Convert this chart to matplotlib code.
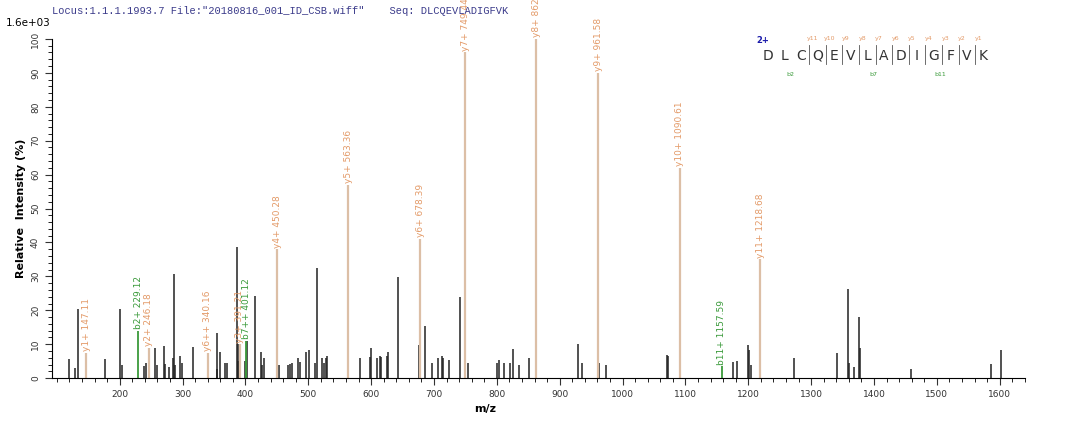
import matplotlib
matplotlib.use("Agg")
import matplotlib.pyplot as plt
from matplotlib.ticker import MultipleLocator

# unassigned peaks (m/z, relative intensity %)
mz_black = [120, 129.4, 133, 177, 200.5, 204, 238.5, 242, 256, 260, 270, 272, 278.6, 284.5,
            286.6, 288, 296, 298.6, 316, 354.5, 355.5, 359, 368, 370.6, 386.6, 387.7, 388.8,
            400, 402.7, 415.5, 424, 427, 430, 450, 453, 468, 471, 474, 483, 486.6, 496, 501.6,
            511, 514.4, 522, 524.6, 528, 530, 582, 598, 600, 608.6, 614.5, 615.5, 625, 626.8,
            643, 676.5, 685.6, 697, 706.6, 712, 713.6, 723.8, 740.9, 749.2, 754.5, 800, 803.7,
            811, 821, 825, 835.5, 851.6, 929.5, 935, 962.7, 973, 1071, 1072.5, 1091, 1176,
            1182, 1199, 1200.5, 1204, 1218, 1273, 1341, 1358.5, 1360, 1367.6, 1376, 1377,
            1458, 1585.6, 1602]
int_black = [5.7, 3, 20.5, 5.7, 20.4, 3.8, 3.5, 4.6, 8.9, 3.8, 9.6, 4.2, 3.2, 5.8,
             30.6, 3.8, 6.5, 4.6, 9.3, 13.4, 2.7, 7.6, 4.6, 4.6, 38.7, 10, 5.1,
             5.1, 11, 24.1, 7.6, 3.8, 5.8, 6.4, 4, 4, 4.2, 4.4, 5.8, 4.9, 7.6, 8.2,
             4.6, 32.6, 6, 4.6, 5.8, 6.6, 5.8, 6.2, 8.9, 5.8, 6.6, 6.2, 6.6, 7.8,
             29.8, 9.7, 15.3, 4.6, 6, 6.4, 5.8, 5.3, 23.9, 3.8, 4.6, 4.6, 5.3,
             4.6, 4.6, 8.5, 4, 5.8, 10, 4.6, 4.4, 3.9, 6.8, 6.4, 8.9, 4.8,
             5, 9.7, 8.2, 3.8, 4.6, 5.8, 7.4, 26.4, 4.4, 3.4, 17.9, 8.9,
             2.7, 4.2, 8.2]

# y ions
y_names = ["y1+", "y2+", "y6++", "y3+", "y4+", "y5+", "y6+", "y7+", "y8+", "y9+", "y10+", "y11+"]
y_mz = [147.11, 246.18, 340.16, 391.21, 450.28, 563.36, 678.39, 749.44, 862.52, 961.58, 1090.61, 1218.68]
y_int = [7.5, 9, 7.5, 10, 38, 57, 41, 96, 100, 90, 62, 35]

# b ions
b_names = ["b2+", "b7++", "b11+"]
b_mz = [229.12, 401.12, 1157.59]
b_int = [14, 11, 3.5]

seq = "DLCQEVLADIGFVK"
y_marks = ["y11", "y10", "y9", "y8", "y7", "y6", "y5", "y4", "y3", "y2", "y1"]
b_marks = {2: "b2", 7: "b7", 11: "b11"}

fig = plt.figure(figsize=(10.8, 4.23), dpi=100)
ax = fig.add_axes([0.048, 0.106, 0.901, 0.802])

tan = "#dcbfa6"
orange = "#e39a68"
green = "#3a9a3a"

ax.vlines(mz_black, 0, int_black, color="#222222", lw=1.1)
ax.vlines(y_mz, 0, y_int, color=tan, lw=1.6)
ax.vlines(b_mz, 0, b_int, color=green, lw=1.3)

for n, m, h in zip(y_names, y_mz, y_int):
    ax.text(m, h + 0.5, f"{n} {m:.2f}", rotation=90, ha="center", va="bottom",
            color=orange, fontsize=6.5)
for n, m, h in zip(b_names, b_mz, b_int):
    ax.text(m, h + 0.5, f"{n} {m:.2f}", rotation=90, ha="center", va="bottom",
            color=green, fontsize=6.5)

ax.set_xlim(92, 1640)
ax.set_ylim(0, 100)
ax.spines["top"].set_visible(False)
ax.spines["right"].set_visible(False)
ax.xaxis.set_major_locator(MultipleLocator(100))
ax.xaxis.set_minor_locator(MultipleLocator(20))
ax.yaxis.set_major_locator(MultipleLocator(10))
ax.yaxis.set_minor_locator(MultipleLocator(2))
ax.set_xticks([200, 300, 400, 500, 600, 700, 800, 900, 1000, 1100, 1200, 1300, 1400, 1500, 1600])
ax.tick_params(axis="both", labelsize=6.5, color="#333333", labelcolor="#333333")
ax.tick_params(which="major", length=5)
ax.tick_params(which="minor", length=3)
for lbl in ax.get_yticklabels():
    lbl.set_rotation(90)
    lbl.set_va("center")
ax.set_xlabel("m/z", fontsize=8, fontweight="bold")
ax.xaxis.set_label_coords(0.445, -0.075)
ax.set_ylabel("Relative  Intensity (%)", fontsize=8, fontweight="bold")
ax.yaxis.set_label_coords(-0.027, 0.5)

fig.text(0.048, 0.975, 'Locus:1.1.1.1993.7 File:"20180816_001_ID_CSB.wiff"    Seq: DLCQEVLADIGFVK',
         family="Liberation Mono", fontsize=7.5, color="#3a3a8a", va="center")
fig.text(0.005, 0.945, "1.6e+03", fontsize=7.5, va="center")

# sequence fragment map
x0, dx, yy = 0.711, 0.01535, 0.868
fig.text(x0 - 0.011, yy + 0.03, "2+", color="#1a1aaa", fontsize=6, fontweight="bold")
for i, c in enumerate(seq):
    fig.text(x0 + i * dx, yy, c, fontsize=10, color="#333333", ha="center", va="center")
for i, lab in enumerate(y_marks):
    xb = x0 + (i + 2.5) * dx
    fig.text(xb + 0.003, yy + 0.038, lab, fontsize=4.5, color=orange, ha="center")
    fig.add_artist(plt.Line2D([xb, xb], [yy - 0.02, yy + 0.025], color="#555555", lw=0.6))
for k, lab in b_marks.items():
    xb = x0 + (k - 0.5) * dx
    fig.text(xb - 0.002, yy - 0.048, lab, fontsize=4.5, color=green, ha="center")

fig.savefig("out.png", dpi=100)
